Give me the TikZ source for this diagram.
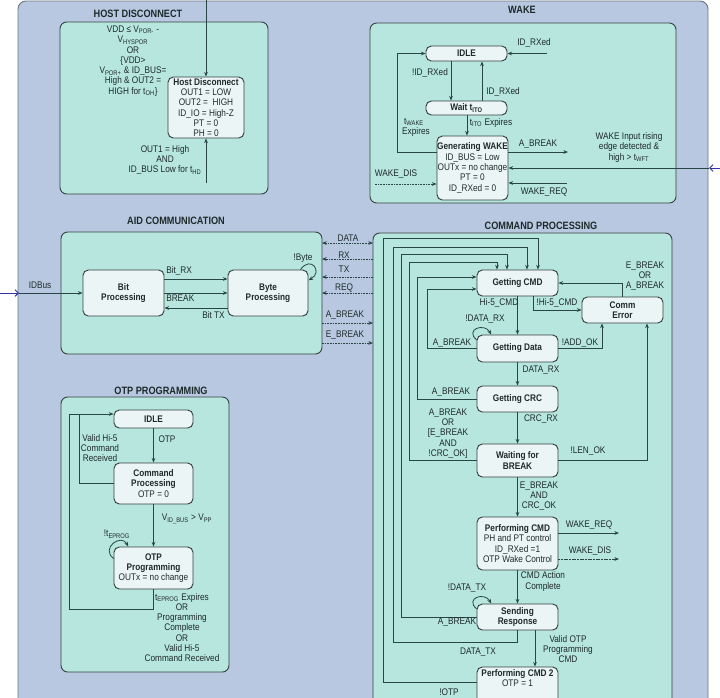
\documentclass[tikz,border=0pt]{standalone}
\usepackage{fontspec}
\usetikzlibrary{arrows.meta}
\newfontfamily\df[FakeStretch=0.86]{Liberation Sans}
\definecolor{outerfill}{RGB}{184,200,225}
\definecolor{outerdraw}{RGB}{110,120,135}
\definecolor{panelfill}{RGB}{182,230,221}
\definecolor{boxfill}{RGB}{236,245,246}
\definecolor{bd}{RGB}{55,65,65}
\definecolor{lc}{RGB}{40,70,70}
\definecolor{txt}{RGB}{30,42,42}
\definecolor{inblue}{RGB}{50,50,160}
\newcommand\lblf{\df\fontsize{7.2}{7.7}\selectfont}
\newcommand\ttlf{\df\bfseries\fontsize{8}{9}\selectfont}
\begin{document}
\begin{tikzpicture}[x=0.75pt,y=-0.75pt,
  ln/.style={draw=lc, line width=0.6pt},
  arr/.style={ln, -{Stealth[length=3.5pt,width=2.8pt]}},
  dsh/.style={arr, dash pattern=on 1.3pt off 0.7pt},
  dsh2/.style={ln, dash pattern=on 1.3pt off 0.7pt, {Stealth[length=3.5pt,width=2.8pt]}-{Stealth[length=3.5pt,width=2.8pt]}},
  inarr/.style={draw=inblue, line width=0.7pt, -{Straight Barb[length=2.5pt,width=5pt]}},
  st/.style={draw=bd, fill=boxfill, rounded corners=4pt, line width=0.7pt, align=center, inner sep=0pt, text=txt, font=\lblf},
  sz/.style 2 args={minimum width=#1*0.75pt, minimum height=#2*0.75pt},
  lbl/.style={font=\lblf, text=txt, align=center, inner sep=0pt},
  panel/.style={draw=bd, fill=panelfill, rounded corners=5pt, line width=0.7pt, inner sep=0pt, outer sep=0pt},
  ttl/.style={font=\ttlf, text=txt, inner sep=0pt}
]
\useasboundingbox (0,0) rectangle (720,697);
\clip (0,0) rectangle (720,697);
\fill[white] (0,0) rectangle (720,697);
% outer area
\draw[outerdraw, fill=outerfill, line width=0.7pt, rounded corners=6pt] (18,1) rectangle (708,740);

% panels
\node[panel, sz={208}{172}] (hdp) at (164,108) {};
\node[panel, sz={306}{180}] (wkp) at (523,113) {};
\node[panel, sz={261}{122}] (aidp) at (191.5,293) {};
\node[panel, sz={299}{487}] (cpp) at (522.5,476.5) {};
\node[panel, sz={168}{275}] (otpp) at (145,534.5) {};

% titles
\node[ttl] (t1) at (138,14) {HOST DISCONNECT};
\node[ttl] (t2) at (522,10) {WAKE};
\node[ttl] (t3) at (176,221) {AID COMMUNICATION};
\node[ttl] (t4) at (541,226) {COMMAND PROCESSING};
\node[ttl] (t5) at (161,391) {OTP PROGRAMMING};

% ---------------- HOST DISCONNECT
\node[st, sz={76}{61}] (hd) at (206,107.5) {\textbf{Host Disconnect}\\OUT1 = LOW\\OUT2 =\ \ HIGH\\ID\_IO = High-Z\\PT = 0\\PH = 0};
\node[lbl] (hdl) at (133,61) {VDD ≤ V\textsubscript{POR-} -\\V\textsubscript{HYSPOR}\\OR\\\{VDD>\\V\textsubscript{POR+} \& ID\_BUS=\\High \& OUT2 =\\HIGH for t\textsubscript{OH}\}};
\node[lbl] (hdb) at (165,160) {OUT1 = High\\AND\\ID\_BUS Low for t\textsubscript{HD}};
\coordinate (hdtop) at (206,-2);
\coordinate (hdbot) at (206,183);
\draw[arr] (hdtop) -- (hd.north);
\draw[arr] (hdbot) -- (hd.south);

% ---------------- WAKE
\node[st, sz={81}{15}] (widle) at (466.5,53.5) {\textbf{IDLE}};
\node[st, sz={81}{14}] (wwait) at (466.5,108) {\textbf{Wait t\textsubscript{ITO}}};
\node[st, sz={71}{64}] (wgen) at (472.5,168) {\textbf{Generating WAKE}\\ID\_BUS = Low\\OUTx = no change\\PT = 0\\ID\_RXed = 0};
\draw[arr] (widle.south -| 451,0) -- (wwait.north -| 451,0);
\node[lbl] (l1) at (430,73) {!ID\_RXed};
\draw[arr] (wwait.north -| 482,0) -- (widle.south -| 482,0);
\node[lbl] (l2) at (503,92) {ID\_RXed};
\draw[arr] (wwait.south -| 467,0) -- (wgen.north -| 467,0);
\node[lbl] (l3) at (491,123) {t\textsubscript{ITO} Expires};
\draw[arr] (wgen.west |- 0,152) -| (397,53.5) -- (widle.west);
\node[lbl] (l4a) at (414,122) {t\textsubscript{WAKE}};
\node[lbl] (l4b) at (416,132) {Expires};
\coordinate (wrx) at (547,53.5);
\draw[arr] (wrx) -- (widle.east);
\node[lbl] (l5) at (534,43) {ID\_RXed};
\coordinate (wab) at (568,152);
\draw[arr] (wgen.east |- wab) -- (wab);
\node[lbl] (l6) at (538,144) {A\_BREAK};
\coordinate (win) at (721,168);
\coordinate (wedge) at (709,168);
\draw[inarr] (win) -- (wedge);
\draw[arr] (wedge) -- (wgen.east);
\node[lbl] (l7) at (629,147.5) {WAKE Input rising\\edge detected \&\\high > t\textsubscript{WFT}};
\coordinate (wdis) at (375,184);
\draw[dsh] (wdis) -- (wgen.west |- wdis);
\node[lbl] (l8) at (396,174) {WAKE\_DIS};
\coordinate (wreq) at (567,183);
\draw[arr] (wreq) -- (wgen.east |- wreq);
\node[lbl] (l9) at (544,192) {WAKE\_REQ};

% ---------------- AID COMMUNICATION
\node[st, sz={81}{46}] (bit) at (123.5,293) {\textbf{Bit}\\\textbf{Processing}};
\node[st, sz={80}{46}] (byte) at (268,293) {\textbf{Byte}\\\textbf{Processing}};
\draw[arr] (bit.east |- 0,279) -- (byte.west |- 0,279);
\node[lbl, anchor=west] (a1) at (166,271) {Bit\_RX};
\draw[arr] (bit.east) -- (byte.west);
\node[lbl, anchor=west] (a2) at (166,298.5) {BREAK};
\draw[arr] (byte.west |- 0,308) -- (bit.east |- 0,308);
\node[lbl, anchor=east] (a3) at (225,315) {Bit TX};
\draw[arr] ([xshift=-6pt]byte.north east) .. controls +(8pt,11pt) and +(11pt,6pt) .. ([yshift=-8pt]byte.north east);
\node[lbl] (a4) at (303,258) {!Byte};
\coordinate (idb0) at (-1,293);
\coordinate (idb1) at (19,293);
\draw[inarr] (idb0) -- (idb1);
\draw[arr] (idb1) -- (bit.west);
\node[lbl] (a5) at (40,285) {IDBus};

% links AID <-> CMD
\draw[dsh2] (aidp.east |- 0,243) -- (cpp.west |- 0,243);
\node[lbl] (b1) at (348,238.5) {DATA};
\draw[dsh] (cpp.west |- 0,259) -- (aidp.east |- 0,259);
\node[lbl] (b2) at (344,255) {RX};
\draw[dsh] (cpp.west |- 0,277) -- (aidp.east |- 0,277);
\node[lbl] (b3) at (344,269) {TX};
\draw[dsh] (cpp.west |- 0,293) -- (aidp.east |- 0,293);
\node[lbl] (b4) at (344,288) {REQ};
\draw[dsh] (aidp.east |- 0,323) -- (cpp.west |- 0,323);
\node[lbl] (b5) at (345,315.5) {A\_BREAK};
\draw[dsh] (aidp.east |- 0,343) -- (cpp.west |- 0,343);
\node[lbl] (b6) at (345,335.5) {E\_BREAK};

% ---------------- COMMAND PROCESSING
\node[st, sz={81}{26}] (gcmd) at (517.5,283) {\textbf{Getting CMD}};
\node[st, sz={81}{26}] (cerr) at (622.5,310) {\textbf{Comm}\\\textbf{Error}};
\node[st, sz={81}{27}] (gdata) at (517.5,348.5) {\textbf{Getting Data}};
\node[st, sz={81}{26}] (gcrc) at (517.5,399) {\textbf{Getting CRC}};
\node[st, sz={81}{33}] (wfb) at (517.5,460.5) {\textbf{Waiting for}\\\textbf{BREAK}};
\node[st, sz={81}{53}] (pcmd) at (517.5,543.5) {\textbf{Performing CMD}\\PH and PT control\\ID\_RXed =1\\OTP Wake Control};
\node[st, sz={81}{43}, text depth=16pt] (pcmd2) at (517.5,688.5) {\textbf{Performing CMD 2}\\OTP = 1};

\draw[arr] (gcmd) -- (gdata);
\node[lbl] (c1) at (499,303) {Hi-5\_CMD};
\draw[arr] (gdata) -- (gcrc);
\node[lbl] (c2) at (541,370) {DATA\_RX};
\draw[arr] (gcrc) -- (wfb);
\node[lbl] (c3) at (541,419) {CRC\_RX};
\draw[arr] (wfb) -- (pcmd);
\node[lbl] (c4) at (539,496) {E\_BREAK\\AND\\CRC\_OK};
\node[st, sz={81}{26}] (sresp) at (517.5,617) {\textbf{Sending}\\\textbf{Response}};
\draw[arr] (pcmd) -- (sresp);
\node[lbl] (c5) at (543,581.5) {CMD Action\\Complete};

\draw[arr] (gcmd.south -| 533,0) |- (cerr.west);
\node[lbl] (c6) at (557,303) {!Hi-5\_CMD};
\draw[arr] (cerr.north) |- (gcmd.east);
\node[lbl] (c7) at (645,276) {E\_BREAK\\OR\\A\_BREAK};
\draw[arr] (gdata.east) -| (cerr.south -| 602,0);
\node[lbl] (c8) at (580,343) {!ADD\_OK};
\draw[arr] ([yshift=-4pt]gdata.north west) .. controls +(-9pt,8pt) and +(-5pt,9pt) .. ([xshift=11pt]gdata.north west);
\node[lbl] (c9) at (485,319) {!DATA\_RX};

\draw[arr] (gdata.west) -- (427,348.5) |- (gcmd.west |- 0,289);
\node[lbl] (c10) at (452,343) {A\_BREAK};
\draw[arr] (gcrc.west) -- (417,399) |- (gcmd.west |- 0,277);
\node[lbl] (c11) at (451,392) {A\_BREAK};
\draw[arr] (wfb.west) -- (409,460.5) |- (497,262) -- (gcmd.north -| 497,0);
\node[lbl] (c12) at (448,433.5) {A\_BREAK\\OR\\{[}E\_BREAK\\AND\\!CRC\_OK{]}};
\draw[arr] (sresp.west) -- (401,617) |- (507,254) -- (gcmd.north -| 507,0);
\node[lbl] (c13) at (457,622) {A\_BREAK};
\draw[arr] (sresp.south) |- (393,642) |- (527,247) -- (gcmd.north -| 527,0);
\node[lbl] (c14) at (478,652) {DATA\_TX};
\draw[arr] (pcmd2.west |- 0,682) -- (383,682) |- (538,238) -- (gcmd.north -| 538,0);
\node[lbl] (c15) at (449,692) {!OTP};
\draw[arr] (sresp.south -| 535,0) -- (pcmd2.north -| 535,0);
\node[lbl] (c16) at (568,649) {Valid OTP\\Programming\\CMD};
\draw[arr] ([yshift=-4pt]sresp.north west) .. controls +(-9pt,8pt) and +(-5pt,9pt) .. ([xshift=11pt]sresp.north west);
\node[lbl] (c17) at (467,588) {!DATA\_TX};

\draw[arr] (wfb.east) -| (cerr.south -| 647,0);
\node[lbl] (c18) at (588,451) {!LEN\_OK};
\coordinate (preq) at (619,533);
\draw[arr] (pcmd.east |- preq) -- (preq);
\node[lbl] (c19) at (589,525) {WAKE\_REQ};
\coordinate (pdis) at (619,559);
\draw[dsh] (pcmd.east |- pdis) -- (pdis);
\node[lbl] (c20) at (590,551.5) {WAKE\_DIS};

% ---------------- OTP PROGRAMMING
\node[st, sz={79}{18}] (oidle) at (153.5,419) {\textbf{IDLE}};
\node[st, sz={79}{41}] (ocp) at (153.5,483.5) {\textbf{Command}\\\textbf{Processing}\\OTP = 0};
\node[st, sz={79}{42}] (ootp) at (153.5,568) {\textbf{OTP}\\\textbf{Programming}\\OUTx = no change};
\draw[arr] (oidle) -- (ocp);
\node[lbl] (o1) at (167,439) {OTP};
\draw[arr] (ocp) -- (ootp);
\node[lbl] (o2) at (187,519) {V\textsubscript{ID\_BUS} > V\textsubscript{PP}};
\draw[ln] (ocp.west) -- (79,483.5) -- (79,414);
\draw[arr] (ootp.south) -- (153.5,609) -| (69,414) -- (oidle.west |- 0,414);
\node[lbl] (o3) at (100,448) {Valid Hi-5\\Command\\Received};
\draw[arr] ([yshift=-9pt]ootp.north west) .. controls +(-10pt,8pt) and +(-5pt,10pt) .. ([xshift=11pt]ootp.north west);
\node[lbl] (o4) at (117,534) {!t\textsubscript{EPROG}};
\node[lbl] (o5) at (182,627.5) {t\textsubscript{EPROG} Expires\\OR\\Programming\\Complete\\OR\\Valid Hi-5\\Command Received};
\end{tikzpicture}
\end{document}
